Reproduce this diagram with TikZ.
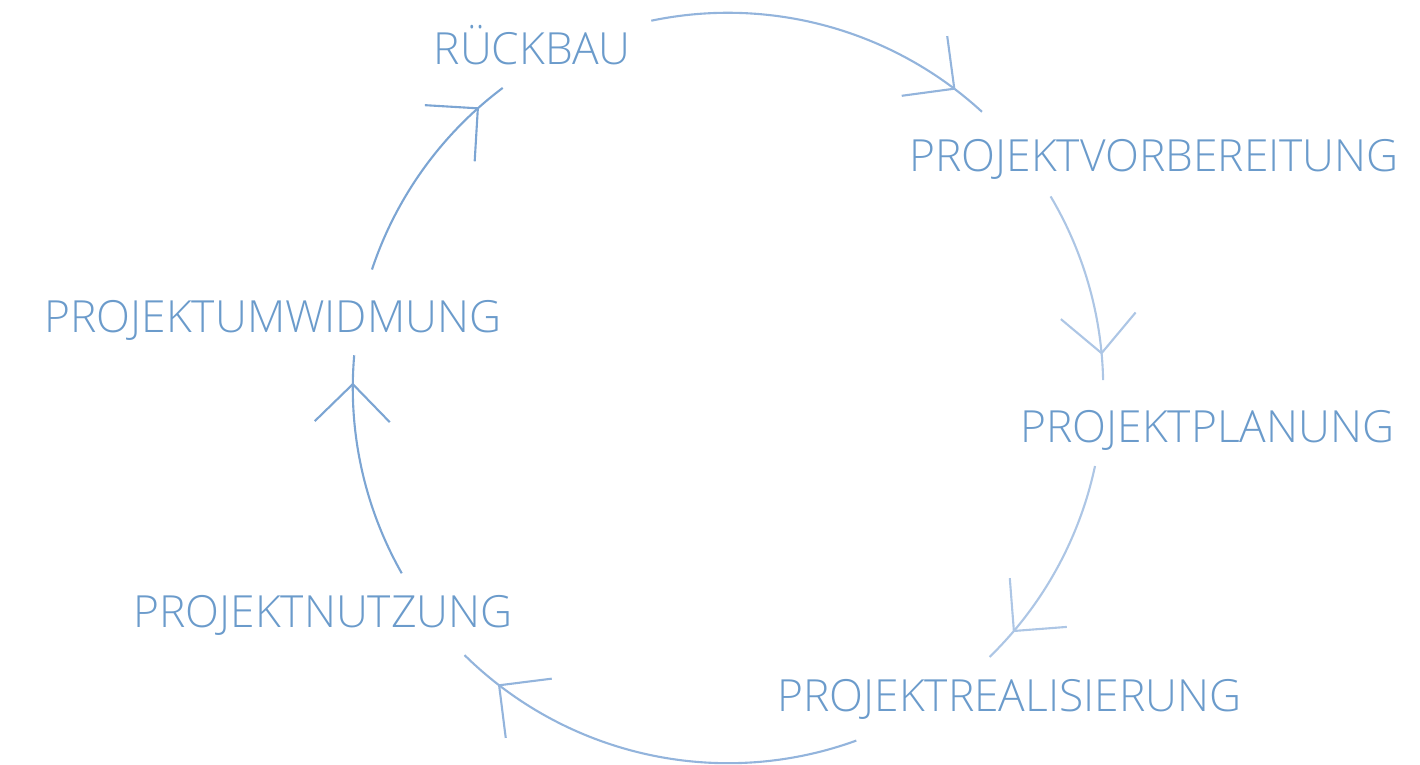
\documentclass[tikz,border=0pt]{standalone}
\usepackage{fontspec}
\newfontfamily\stagefont{Open Sans Light}
\usetikzlibrary{decorations.markings,arrows.meta}
\definecolor{stagetext}{HTML}{6B9BCB}
\definecolor{ringdark}{HTML}{7CA5D3}
\definecolor{ringmid}{HTML}{93B4DC}
\definecolor{ringlight}{HTML}{ADC6E5}
\tikzstyle{stage}=[inner sep=0pt, anchor=base west, text=stagetext,
  font=\stagefont\fontsize{12.6}{15}\selectfont]
\tikzset{ring/.style={line width=0.6pt, decoration={
      markings,
      mark=at position #1 with {\arrow{Straight Barb[length=3.75mm,width=7.5mm]}}},postaction={decorate}}}

\begin{document}
\begin{tikzpicture}[x=0.01cm,y=0.01cm]
    \useasboundingbox (0,0) rectangle (1420,765);
    \coordinate (mid) at (728,377);
    % the six phases round the cycle
    \node[stage] (rueckbau) at (433,700) {RÜCKBAU};
    \node[stage] (vorbereitung) at (909,593) {PROJEKTVORBEREITUNG};
    \node[stage] (planung) at (1020,322) {PROJEKTPLANUNG};
    \node[stage] (realisierung) at (777,53) {PROJEKTREALISIERUNG};
    \node[stage] (nutzung) at (133,137) {PROJEKTNUTZUNG};
    \node[stage] (umwidmung) at (44,432) {PROJEKTUMWIDMUNG};
    % arcs of the ring, clockwise
    \draw[ring=0.903, ringmid] ([shift={(101.8:3.75cm)}]mid) arc[start angle=101.8, end angle=47.4, radius=3.75cm];
    \draw[ring=0.868, ringlight] ([shift={(30.7:3.75cm)}]mid) arc[start angle=30.7, end angle=1.2, radius=3.75cm];
    \draw[ring=0.846, ringlight] ([shift={(-12:3.75cm)}]mid) arc[start angle=-12, end angle=-45.8, radius=3.75cm];
    \draw[ring=0.895, ringmid] ([shift={(-70:3.75cm)}]mid) arc[start angle=-70, end angle=-134.6, radius=3.75cm];
    \draw[ring=0.879, ringdark] ([shift={(209.6:3.75cm)}]mid) arc[start angle=209.6, end angle=175, radius=3.75cm];
    \draw[ring=0.865, ringdark] ([shift={(161.6:3.75cm)}]mid) arc[start angle=161.6, end angle=126.9, radius=3.75cm];
\end{tikzpicture}
\end{document}
